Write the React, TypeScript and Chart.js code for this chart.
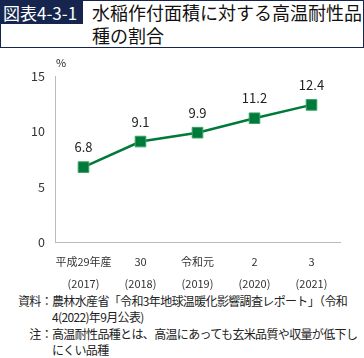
import React, { useEffect, useRef } from "react";
import { Chart, registerables } from "chart.js";

Chart.register(...registerables);

const categories: string[][] = [
  ["平成29年産", "(2017)"],
  ["30", "(2018)"],
  ["令和元", "(2019)"],
  ["2", "(2020)"],
  ["3", "(2021)"],
];
const shares: number[] = [6.8, 9.1, 9.9, 11.2, 12.4];
const yMin = 0;
const yMax = 15;
const yStep = 5;
const unitLabel = "%";

const FONT = "'Noto Sans CJK JP', 'Noto Sans', sans-serif";
const GREEN = "#007a3a";

const valueLabels = {
  id: "valueLabels",
  afterDatasetsDraw(chart: any) {
    const ctx = chart.ctx;
    const meta = chart.getDatasetMeta(0);
    ctx.save();
    ctx.font = `13px ${FONT}`;
    ctx.fillStyle = "#222";
    ctx.textAlign = "center";
    ctx.textBaseline = "middle";
    meta.data.forEach((pt: any, i: number) => {
      ctx.fillText(shares[i].toFixed(1), pt.x, pt.y - 20);
    });
    const ca = chart.chartArea;
    ctx.font = `11px ${FONT}`;
    ctx.textAlign = "left";
    ctx.fillText(unitLabel, ca.left + 1, ca.top - 13);
    ctx.restore();
  },
};

function LineChart() {
  const ref = useRef<HTMLCanvasElement | null>(null);
  useEffect(() => {
    if (!ref.current) return;
    const chart = new Chart(ref.current, {
      type: "line",
      data: {
        labels: categories,
        datasets: [
          {
            data: shares,
            borderColor: GREEN,
            borderWidth: 2.5,
            pointStyle: "rect",
            pointRadius: 7.5,
            pointBackgroundColor: GREEN,
            pointBorderColor: "#3aa064",
            pointBorderWidth: 1,
            tension: 0,
          },
        ],
      },
      options: {
        responsive: true,
        maintainAspectRatio: false,
        animation: false,
        layout: { padding: { top: 21, right: 24, left: 0, bottom: 0 } },
        plugins: {
          legend: { display: false },
          tooltip: { enabled: false },
        },
        scales: {
          x: {
            offset: true,
            grid: { display: false, drawTicks: false },
            border: { display: true, color: "#bbbbbb", width: 1 },
            ticks: {
              color: "#333",
              font: { family: FONT, size: 11, lineHeight: "22px" },
              padding: 8,
              maxRotation: 0,
              autoSkip: false,
            },
            afterFit(scale: any) {
              scale.height = 47.3;
            },
          },
          y: {
            min: yMin,
            max: yMax,
            grid: { display: false, drawTicks: false },
            border: { display: true, color: "#bbbbbb", width: 1 },
            ticks: {
              stepSize: yStep,
              color: "#333",
              font: { family: FONT, size: 12.5 },
              padding: 10,
            },
            afterFit(scale: any) {
              scale.width = 55;
            },
          },
        },
      },
      plugins: [valueLabels],
    });
    return () => chart.destroy();
  }, []);
  return <canvas ref={ref} />;
}

export default function App() {
  const navy = "#16254d";
  return (
    <div
      style={{
        position: "absolute",
        left: 0,
        top: 0,
        width: 364,
        height: 358,
        fontFamily: FONT,
        color: "#222",
        background: "#fff",
        overflow: "hidden",
      }}
    >
      <div
        style={{
          position: "absolute",
          left: 0,
          top: 0,
          width: 364,
          height: 48,
          boxSizing: "border-box",
          border: `1.5px solid ${navy}`,
        }}
      >
        <div
          style={{
            position: "absolute",
            left: 0,
            top: 0,
            width: 80,
            height: 23,
            background: navy,
            color: "#fff",
            fontSize: 17,
            lineHeight: "23px",
            paddingLeft: 2,
            whiteSpace: "nowrap",
          }}
        >
          図表4-3-1
        </div>
        <div
          style={{
            position: "absolute",
            left: 91,
            top: 0,
            fontSize: 18,
            lineHeight: "23px",
            color: "#111",
            whiteSpace: "nowrap",
          }}
        >
          水稲作付面積に対する高温耐性品
          <br />
          種の割合
        </div>
      </div>
      <div style={{ position: "absolute", left: 0, top: 55, width: 364, height: 235 }}>
        <LineChart />
      </div>
      <div
        style={{
          position: "absolute",
          left: 0,
          top: 293,
          width: 364,
          fontSize: 12,
          lineHeight: "16.3px",
          letterSpacing: "-0.65px",
          color: "#222",
          whiteSpace: "nowrap",
        }}
      >
        <div style={{ display: "flex" }}>
          <div style={{ width: 52, textAlign: "right", flex: "none" }}>資料：</div>
          <div>
            農林水産省「令和3年地球温暖化影響調査レポート」（令和
            <br />
            4(2022)年9月公表)
          </div>
        </div>
        <div style={{ display: "flex" }}>
          <div style={{ width: 52, textAlign: "right", flex: "none" }}>注：</div>
          <div>
            高温耐性品種とは、高温にあっても玄米品質や収量が低下し
            <br />
            にくい品種
          </div>
        </div>
      </div>
    </div>
  );
}
